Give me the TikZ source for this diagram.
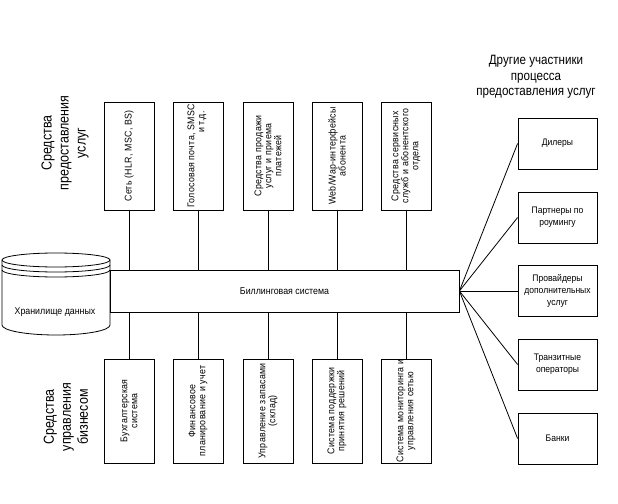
\documentclass[tikz,border=0pt]{standalone}
\usepackage{fontspec}
\setmainfont{Liberation Sans}
\newfontfamily\narrowfont[FakeStretch=0.9]{Liberation Sans}
\newfontfamily\vfont[FakeStretch=0.9,LetterSpace=3]{Liberation Sans}
\newfontfamily\titlefont[FakeStretch=0.86]{Liberation Sans}
\begin{document}
\begin{tikzpicture}[x=1pt,y=-1pt,
  boxline/.style={draw=black,line width=0.8pt},
  vbox/.style={boxline,minimum width=50pt,inner sep=0pt},
  rbox/.style={boxline,minimum width=79pt,minimum height=51pt,inner sep=0pt,align=center,
     font=\narrowfont\fontsize{9.5}{12}\selectfont},
  vtext/.style={rotate=90,align=center,inner sep=0pt,font=\vfont\fontsize{9.8}{10}\selectfont},
  bigtext/.style={align=center,inner sep=0pt,font=\titlefont\fontsize{14.5}{17}\selectfont},
  conn/.style={draw=black,line width=0.8pt}]
\useasboundingbox[fill=white] (0,0) rectangle (618,503);

% billing system
\node[boxline,minimum width=349pt,minimum height=42pt,inner sep=0pt,
      font=\narrowfont\fontsize{9.8}{10}\selectfont] (bill) at (284.5,291) {Биллинговая система};

% data store cylinder
\draw[conn] (2,260) arc[start angle=180,end angle=-180,x radius=54,y radius=7];
\draw[conn] (2,265) arc[start angle=180,end angle=0,x radius=54,y radius=7];
\draw[conn] (2,270) arc[start angle=180,end angle=0,x radius=54,y radius=7];
\draw[conn] (2,260) -- (2,325) arc[start angle=180,end angle=0,x radius=54,y radius=10] -- (110,260);
\node[inner sep=0pt,font=\narrowfont\fontsize{9.8}{10}\selectfont] (store) at (55,312) {Хранилище данных};

% top boxes
\foreach \i/\x in {1/129,2/198,3/268,4/337,5/406}{
  \node[vbox,minimum height=108pt] (t\i) at (\x,156) {};
  \draw[conn] (t\i.south) -- (t\i.south |- bill.north);
}
\node[vtext] (tt1) at (t1.center) {Сеть (HLR, MSC, BS)};
\node[vtext,align=right] (tt2) at (197,156) {Голосовая почта, SMSC\\и т.д.\hspace*{7pt}};
\node[vtext] (tt3) at (t3.center) {Средства продажи\\услуг и приема\\платежей};
\node[vtext] (tt4) at (t4.center) {Web/Wap-интерфейсы\\абонента};
\node[vtext] (tt5) at (t5.center) {Средства сервисных\\служб и абонентского\\отдела};

% bottom boxes
\foreach \i/\x in {1/129,2/198,3/268,4/337,5/406}{
  \node[vbox,minimum height=104pt] (b\i) at (\x,411) {};
  \draw[conn] (b\i.north) -- (b\i.north |- bill.south);
}
\node[vtext] (bt1) at (b1.center) {Бухгалтерская\\система};
\node[vtext] (bt2) at (b2.center) {Финансовое\\планирование и учет};
\node[vtext] (bt3) at (b3.center) {Управление запасами\\(склад)};
\node[vtext] (bt4) at (b4.center) {Система поддержки\\принятия решений};
\node[vtext] (bt5) at (b5.center) {Система мониторинга и\\управления сетью};

% right boxes
\node[rbox] (r1) at (557.5,143.5) {Дилеры};
\node[rbox] (r2) at (557.5,217.5) {Партнеры по\\роумингу};
\node[rbox] (r3) at (557.5,291) {Провайдеры\\дополнительных\\услуг};
\node[rbox] (r4) at (557.5,364.5) {Транзитные\\операторы};
\node[rbox] (r5) at (557.5,438.5) {Банки};
\foreach \i in {1,...,5}{
  \draw[conn] (bill.east) -- (r\i.west);
}

% titles
\node[align=center,inner sep=0pt,font=\titlefont\fontsize{13.5}{15.5}\selectfont] (rtitle) at (536,77)
  {Другие участники\\процесса\\предоставления услуг};
\node[bigtext,rotate=90] (ltop) at (65,143) {Средства\\предоставления\\услуг};
\node[bigtext,rotate=90] (lbot) at (66,417) {Средства\\управления\\бизнесом};
\end{tikzpicture}
\end{document}
